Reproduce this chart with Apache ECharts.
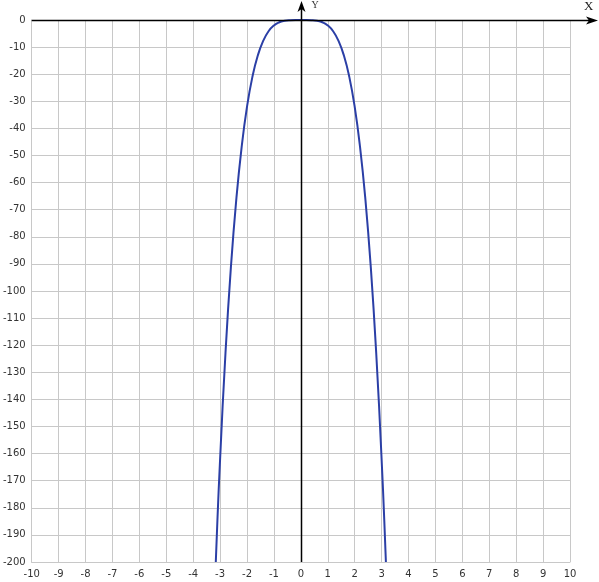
<!DOCTYPE html>
<html><head><meta charset="utf-8">
<script src="https://cdn.jsdelivr.net/npm/echarts@6/dist/echarts.min.js"></script>
<style>html,body{margin:0;padding:0;background:#fff}#c{width:599px;height:582px}</style>
</head><body><div id="c"></div>
<script>
var xValues = [-3.16,-3.1,-3.0,-2.8,-2.6,-2.4,-2.2,-2.0,-1.8,-1.6,-1.4,-1.2,-1.0,-0.8,-0.6,-0.4,-0.2,0,0.2,0.4,0.6,0.8,1.0,1.2,1.4,1.6,1.8,2.0,2.2,2.4,2.6,2.8,3.0,3.1,3.16];
var yValues = [-200,-184.7,-162,-122.9,-91.4,-66.4,-46.9,-32,-21,-13.1,-7.7,-4.15,-2,-0.82,-0.26,-0.05,0,0,0,-0.05,-0.26,-0.82,-2,-4.15,-7.7,-13.1,-21,-32,-46.9,-66.4,-91.4,-122.9,-162,-184.7,-200];
var xTicks = [-10,-9,-8,-7,-6,-5,-4,-3,-2,-1,0,1,2,3,4,5,6,7,8,9,10];
var yMin = -200, yMax = 0, yStep = 10;

var chart = echarts.init(document.getElementById('c'));
var pts = xValues.map(function(x,i){return [x,yValues[i]];});
var font = 'DejaVu Sans';
chart.setOption({
  animation:false,
  grid:{left:30,right:29,top:20,bottom:20,show:false},
  xAxis:{type:'value',min:xTicks[0],max:xTicks[xTicks.length-1],interval:1,position:'bottom',
    axisLine:{show:true,onZero:false,lineStyle:{color:'#c8c8c8'}},axisTick:{show:false},
    axisLabel:{color:'#333',fontFamily:font,fontSize:10,margin:7},
    splitLine:{show:true,lineStyle:{color:'#c8c8c8',width:1}}},
  yAxis:{type:'value',min:yMin,max:yMax,interval:yStep,
    axisLine:{show:true,onZero:false,lineStyle:{color:'#c8c8c8'}},axisTick:{show:false},
    axisLabel:{color:'#333',fontFamily:font,fontSize:10,margin:6},
    splitLine:{show:true,lineStyle:{color:'#c8c8c8',width:1}}},
  series:[{type:'line',data:pts,smooth:true,showSymbol:false,clip:true,
    lineStyle:{color:'#2b3fa6',width:2}}]
});
var o = chart.convertToPixel({gridIndex:0},[0,0]);
var left = chart.convertToPixel({gridIndex:0},[xTicks[0],yMin]);
var ox=Math.round(o[0])+0.5, oy=Math.round(o[1])+0.5;
chart.setOption({graphic:[
  {type:'line',shape:{x1:left[0],y1:oy,x2:592,y2:oy},style:{stroke:'#000',lineWidth:1.5},z:100},
  {type:'polygon',shape:{points:[[598,oy],[586,oy-4],[589,oy],[586,oy+4]]},style:{fill:'#000'},z:100},
  {type:'line',shape:{x1:ox,y1:left[1],x2:ox,y2:6},style:{stroke:'#000',lineWidth:1.5},z:100},
  {type:'polygon',shape:{points:[[ox,1],[ox-4,12],[ox,9],[ox+4,12]]},style:{fill:'#000'},z:100},
  {type:'text',left:ox+10,top:0,style:{text:'Y',font:'10px "Liberation Serif"',fill:'#333'},z:100},
  {type:'text',left:584,top:0,style:{text:'X',font:'13px "Liberation Serif"',fill:'#222'},z:100}
]});
</script></body></html>
